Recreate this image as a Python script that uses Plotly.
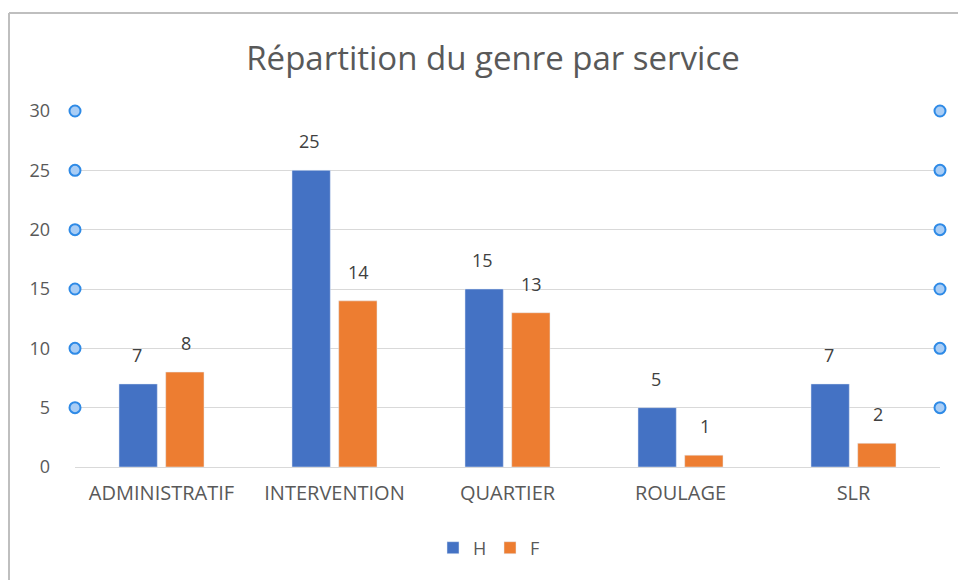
import plotly.graph_objects as go

categories = ["ADMINISTRATIF", "INTERVENTION", "QUARTIER", "ROULAGE", "SLR"]
h_values = [7, 25, 15, 5, 7]
f_values = [8, 14, 13, 1, 2]
y_ticks = [0, 5, 10, 15, 20, 25, 30]
handle_levels = [5, 10, 15, 20, 25, 30]

BLUE = "#4472c4"
ORANGE = "#ed7d31"
TXT = "#595959"
FONT = "Open Sans"

W, H = 958, 580
L, R, T, B = 75, 18, 111, 113
pw, ph = W - L - R, H - T - B

fig = go.Figure()
fig.add_trace(go.Bar(name="H", x=categories, y=h_values, marker=dict(color=BLUE), hoverinfo="skip"))
fig.add_trace(go.Bar(name="F", x=categories, y=f_values, marker=dict(color=ORANGE), hoverinfo="skip"))

# gridline handles (circles at both ends)
hx, hy = [], []
for v in handle_levels:
    hx += [0, 1]
    hy += [v, v]
fig.add_trace(go.Scatter(x=hx, y=hy, xaxis="x2", mode="markers", showlegend=False,
                         hoverinfo="skip", cliponaxis=False,
                         marker=dict(size=11, color="#a9cdf5", line=dict(color="#2e8ae6", width=2))))

annotations = []
for vals, shift in ((h_values, -25), (f_values, 24)):
    for c, v in zip(categories, vals):
        annotations.append(dict(x=c, y=v, xref="x", yref="y", text=str(v), showarrow=False,
                                xshift=shift, yshift=15, yanchor="bottom",
                                font=dict(size=18, color="#404040", family=FONT)))

shapes = [
    dict(type="line", xref="paper", yref="paper", x0=(9 - L) / pw, x1=1.1,
         y0=(T + ph - 13) / ph, y1=(T + ph - 13) / ph, line=dict(color="#bfbfbf", width=2)),
    dict(type="line", xref="paper", yref="paper", x0=(9 - L) / pw, x1=(9 - L) / pw,
         y0=(T + ph - 13) / ph, y1=-0.5, line=dict(color="#bfbfbf", width=2)),
]

fig.update_layout(
    width=W, height=H,
    margin=dict(l=L, r=R, t=T, b=B),
    paper_bgcolor="white", plot_bgcolor="white",
    barmode="group", bargap=0.46, bargroupgap=0.18,
    font=dict(family=FONT, color=TXT, size=18),
    title=dict(text="Répartition du genre par service", x=(493 - L) / pw, xref="paper",
               xanchor="center", y=1 - 58 / H, yanchor="middle", yref="container",
               font=dict(size=33, color=TXT, family=FONT)),
    xaxis=dict(showgrid=False, showline=True, linecolor="#d9d9d9", linewidth=1,
               ticks="", tickfont=dict(size=20, color=TXT), ticklabelstandoff=8, fixedrange=True),
    xaxis2=dict(overlaying="x", range=[0, 1], visible=False, fixedrange=True),
    yaxis=dict(range=[0, 30], tickvals=y_ticks, showgrid=True, gridcolor="#d9d9d9", gridwidth=1,
               zeroline=False, showline=False, ticks="", tickfont=dict(size=18, color=TXT),
               ticklabelstandoff=24, fixedrange=True),
    legend=dict(orientation="h", x=(490 - L) / pw, xanchor="center", y=(T + ph - 548) / ph,
                yanchor="middle", font=dict(size=18, color=TXT), entrywidth=12,
                entrywidthmode="pixels", traceorder="normal"),
    annotations=annotations,
    shapes=shapes,
    showlegend=True,
)

fig.write_html("out.html", config={"displayModeBar": False},
               post_script="document.body.style.margin='0';")
